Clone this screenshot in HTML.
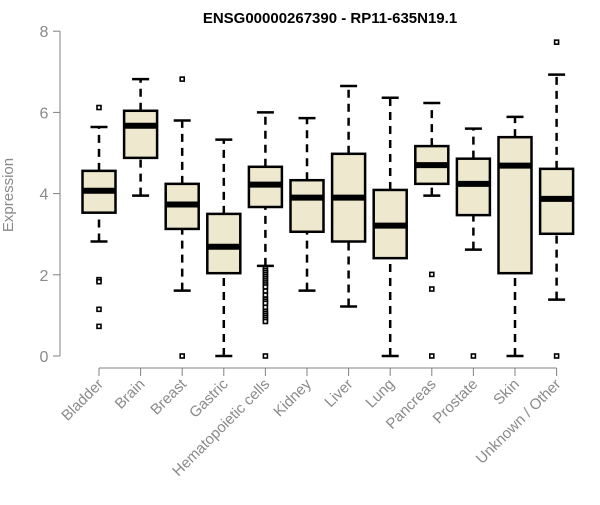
<!DOCTYPE html>
<html><head><meta charset="utf-8"><style>
body{margin:0;background:#fff;width:600px;height:500px;overflow:hidden}
svg text{font-family:"Liberation Sans",sans-serif}
</style></head><body>
<svg id="chart" width="600" height="500">
<text x="330" y="23" text-anchor="middle" font-weight="bold" font-size="15">ENSG00000267390 - RP11-635N19.1</text>
<text transform="translate(13,195) rotate(-90)" text-anchor="middle" font-size="15" fill="#8a8a8a">Expression</text>
<g id="plot"></g>
</svg>
<script>
const categories=["Bladder","Brain","Breast","Gastric","Hematopoietic cells","Kidney","Liver","Lung","Pancreas","Prostate","Skin","Unknown / Other"];
const whiskerLow=[2.82,3.95,1.61,0,2.22,1.61,1.22,0,3.95,2.62,0,1.39];
const q1=[3.53,4.88,3.13,2.04,3.67,3.06,2.82,2.41,4.24,3.47,2.04,3.01];
const medians=[4.07,5.67,3.73,2.69,4.22,3.90,3.90,3.21,4.70,4.24,4.69,3.87];
const q3=[4.56,6.04,4.24,3.50,4.66,4.33,4.98,4.09,5.17,4.86,5.39,4.61];
const whiskerHigh=[5.64,6.82,5.80,5.33,6.00,5.86,6.65,6.36,6.23,5.60,5.89,6.93];
const outliers=[[6.12,1.88,1.83,1.15,0.73],[],[6.82,0],[],[2.15,2.1,2.05,2.0,1.95,1.9,1.85,1.8,1.75,1.7,1.6,1.5,1.4,1.35,1.3,1.2,1.1,1.05,1.0,0.95,0.9,0.85,0],[],[],[],[2.01,1.65,0],[0],[],[7.73,0]];
const yTicks=[0,2,4,6,8];
const NS="http://www.w3.org/2000/svg";
const g=document.getElementById('plot');
const y=v=>356-v*40.6;
const x=i=>99+i*41.6;
function mk(t,a){const e=document.createElementNS(NS,t);for(const k in a)e.setAttribute(k,a[k]);g.appendChild(e);return e;}
let ax=mk('line',{x1:60,x2:60,y1:y(0),y2:y(8),stroke:'#808080','stroke-width':1});


yTicks.forEach(v=>{
 const t=mk('line',{x1:53,x2:60,y1:y(v),y2:y(v),stroke:'#808080'});
 
 
 const l=mk('text',{x:44,y:y(v)+6,'text-anchor':'middle','font-size':16,fill:'#8a8a8a'});
 l.textContent=v;
 
 
});
let xa=mk('line',{x1:x(0),x2:x(categories.length-1),y1:368,y2:368,stroke:'#808080'});


const hw=16.5;
categories.forEach((c,i)=>{
 const cx=x(i);
 const t=mk('line',{x1:cx,x2:cx,y1:368,y2:376,stroke:'#808080'});
 
 
 const l=mk('text',{x:0,y:0,'text-anchor':'end','font-size':15,fill:'#8a8a8a',transform:`translate(${cx+5},${385}) rotate(-45)`});
 l.textContent=c;
 
 
 const grp=document.createElementNS(NS,'g');g.appendChild(grp);
 
 
 const add=(tag,a)=>{const e=document.createElementNS(NS,tag);for(const k in a)e.setAttribute(k,a[k]);grp.appendChild(e);return e;};
 add('line',{x1:cx,x2:cx,y1:y(whiskerLow[i]),y2:y(q1[i]),stroke:'#000','stroke-width':2.5,'stroke-dasharray':'8,6'});
 add('line',{x1:cx,x2:cx,y1:y(q3[i]),y2:y(whiskerHigh[i]),stroke:'#000','stroke-width':2.5,'stroke-dasharray':'8,6'});
 add('line',{x1:cx-8.5,x2:cx+8.5,y1:y(whiskerLow[i]),y2:y(whiskerLow[i]),stroke:'#000','stroke-width':2.5});
 add('line',{x1:cx-8.5,x2:cx+8.5,y1:y(whiskerHigh[i]),y2:y(whiskerHigh[i]),stroke:'#000','stroke-width':2.5});
 add('rect',{x:cx-hw,y:y(q3[i]),width:hw*2,height:y(q1[i])-y(q3[i]),fill:'#ede8ce',stroke:'#000','stroke-width':2.5});
 add('line',{x1:cx-hw,x2:cx+hw,y1:y(medians[i]),y2:y(medians[i]),stroke:'#000','stroke-width':6});
 outliers[i].forEach(o=>{add('rect',{x:cx-2,y:y(o)-2,width:4,height:4,fill:'#fff',stroke:'#000','stroke-width':1.6});});
});
</script>
</body></html>
